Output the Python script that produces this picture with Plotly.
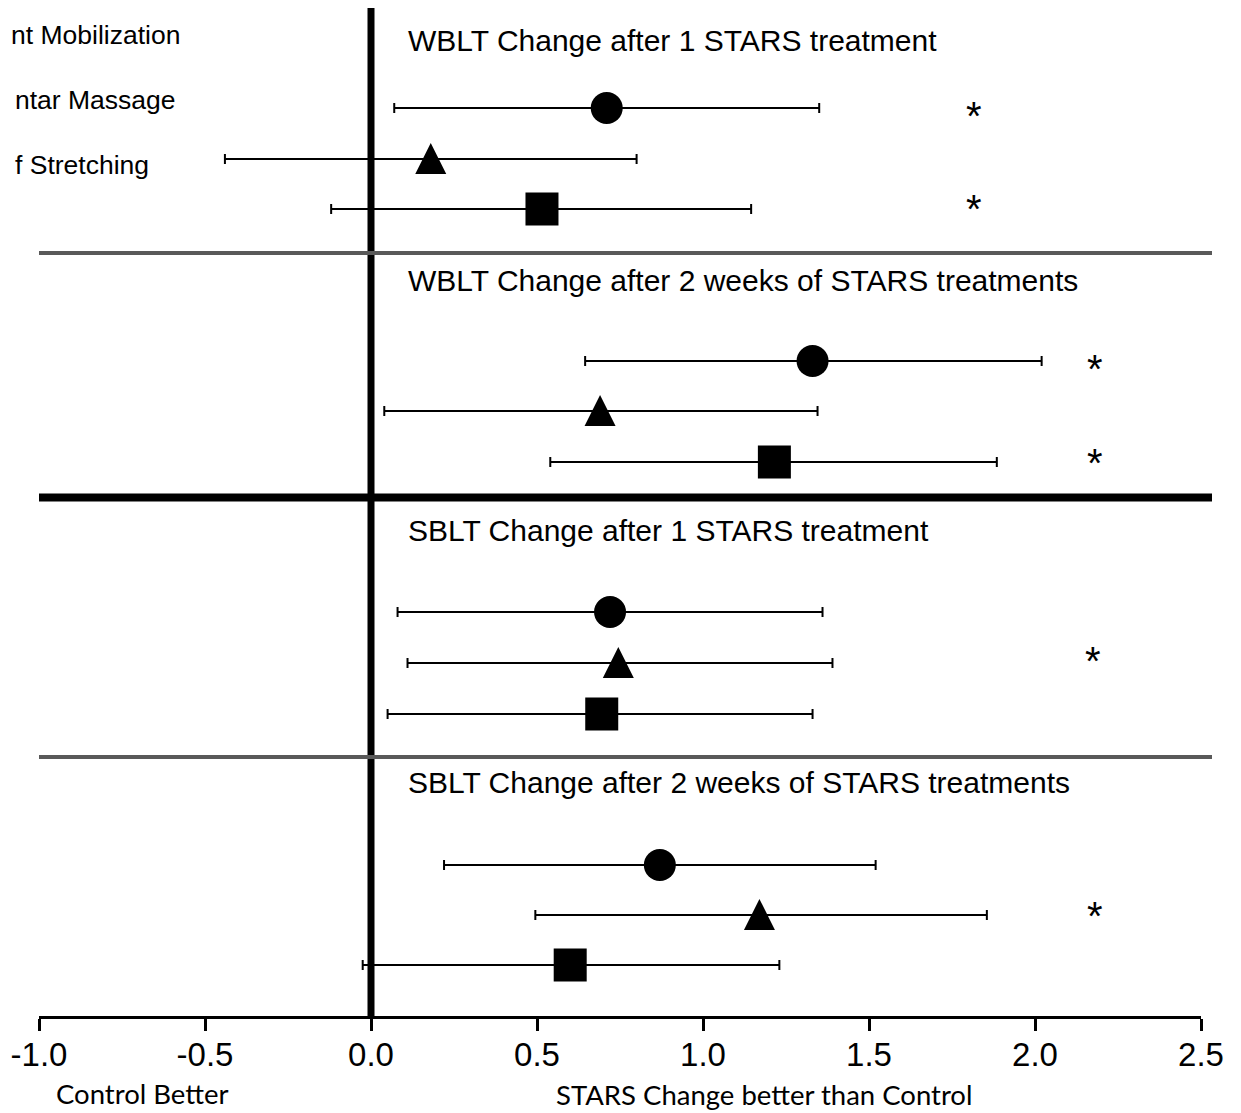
import plotly.graph_objects as go

# ---------------- data ----------------
panel_titles = [
    "WBLT Change after 1 STARS treatment",
    "WBLT Change after 2 weeks of STARS treatments",
    "SBLT Change after 1 STARS treatment",
    "SBLT Change after 2 weeks of STARS treatments",
]
# legend labels as visible in the (left-cropped) reference picture
legend_labels = ["nt Mobilization", "ntar Massage", "f Stretching"]

mob_mean = [0.71, 1.33, 0.72, 0.87]
mob_lo = [0.07, 0.645, 0.08, 0.22]
mob_hi = [1.35, 2.02, 1.36, 1.52]

mas_mean = [0.18, 0.69, 0.745, 1.17]
mas_lo = [-0.44, 0.04, 0.11, 0.495]
mas_hi = [0.80, 1.345, 1.39, 1.855]

str_mean = [0.515, 1.215, 0.695, 0.60]
str_lo = [-0.12, 0.54, 0.05, -0.025]
str_hi = [1.145, 1.885, 1.33, 1.23]

mob_sig = [True, True, False, False]
mas_sig = [False, False, True, True]
str_sig = [True, True, False, False]

x_ticks = [-1.0, -0.5, 0.0, 0.5, 1.0, 1.5, 2.0, 2.5]
x_ticktext = ["-1.0", "-0.5", "0.0", "0.5", "1.0", "1.5", "2.0", "2.5"]

# ---------------- layout constants ----------------
# the html body has an 8px margin, so the figure starts at page (8, 8)
OFF = 8
PLOT_LEFT, PLOT_RIGHT, PLOT_TOP, PLOT_BOTTOM = 39, 1201, 8, 1016  # page px
W, H = 1233, 1105
ML = PLOT_LEFT - OFF
MT = PLOT_TOP - OFF
PW = PLOT_RIGHT - PLOT_LEFT
PH = PLOT_BOTTOM - PLOT_TOP
MR = W - ML - PW
MB = H - MT - PH


def px_x(page_x):
    return (page_x - PLOT_LEFT) / PW


def px_y(page_y):
    return (PLOT_BOTTOM - page_y) / PH


row_y = [[108, 159, 209], [361, 411, 462], [612, 663, 714], [865, 915, 965]]
star_dy = [[4, 0, -4], [4, 0, -3], [0, -6, 0], [0, -3, 0]]
title_y = [40, 280, 530, 782]
star_x = [1.816, 2.18, 2.176, 2.18]
sep_y = [253, 497.5, 757]
sep_w = [4, 8, 4]
sep_c = ["#595959", "#000000", "#595959"]

FONT = "Liberation Sans, Arial, sans-serif"

series = [
    (mob_mean, mob_lo, mob_hi, mob_sig, "circle", 32, 0),
    (mas_mean, mas_lo, mas_hi, mas_sig, "arrow-up", 31, -16),
    (str_mean, str_lo, str_hi, str_sig, "square", 33, 0),
]

fig = go.Figure()

# error bars
for k, (mean, lo, hi, sig, sym, size, dy) in enumerate(series):
    ys = [row_y[p][k] for p in range(4)]
    fig.add_trace(go.Scatter(
        x=mean, y=ys, mode="markers",
        marker=dict(size=2, color="rgba(0,0,0,0)"),
        error_x=dict(type="data", symmetric=False,
                     array=[h - m for m, h in zip(mean, hi)],
                     arrayminus=[m - l for m, l in zip(mean, lo)],
                     color="black", thickness=2, width=5),
        hoverinfo="skip", showlegend=False,
    ))

# markers
for k, (mean, lo, hi, sig, sym, size, dy) in enumerate(series):
    ys = [row_y[p][k] + dy for p in range(4)]
    fig.add_trace(go.Scatter(
        x=mean, y=ys, mode="markers",
        marker=dict(symbol=sym, size=size, color="black", line=dict(width=0)),
        showlegend=False,
    ))

shapes = []
shapes.append(dict(type="line", xref="x", yref="y", x0=0, x1=0, y0=PLOT_TOP, y1=PLOT_BOTTOM,
                   line=dict(color="black", width=7)))
x_end = px_x(1212)
for yv, wv, cv in zip(sep_y, sep_w, sep_c):
    shapes.append(dict(type="line", xref="paper", yref="y", x0=0, x1=x_end,
                       y0=yv, y1=yv, line=dict(color=cv, width=wv)))

annotations = []
for p, t in enumerate(panel_titles):
    annotations.append(dict(text=t, x=0.105, y=title_y[p], xref="x", yref="y",
                            xanchor="left", yanchor="middle", showarrow=False,
                            font=dict(family=FONT, size=30, color="black")))
    for k, s in enumerate(series):
        if s[3][p]:
            annotations.append(dict(text="*", x=star_x[p],
                                    y=row_y[p][k] + star_dy[p][k] + 4,
                                    xref="x", yref="y", xanchor="center",
                                    yanchor="middle", showarrow=False,
                                    font=dict(family=FONT, size=40, color="black")))

legend_right = [182, 178, 151]
legend_y = [35, 100, 165]
for k, t in enumerate(legend_labels):
    annotations.append(dict(text=t, x=px_x(legend_right[k]),
                            y=legend_y[k], xref="paper", yref="y",
                            xanchor="right", yanchor="middle", showarrow=False,
                            font=dict(family=FONT, size=26.5, color="black")))

annotations.append(dict(text="Control Better", x=px_x(142), y=px_y(1093),
                        xref="paper", yref="paper",
                        xanchor="center", yanchor="middle", showarrow=False,
                        font=dict(family="Lato, Carlito, sans-serif", size=27.5, color="black")))
annotations.append(dict(text="STARS Change better than Control", x=px_x(764), y=px_y(1094),
                        xref="paper", yref="paper",
                        xanchor="center", yanchor="middle", showarrow=False,
                        font=dict(family="Lato, Carlito, sans-serif", size=27.5, color="black")))

fig.update_layout(
    width=W, height=H,
    margin=dict(l=ML, r=MR, t=MT, b=MB, pad=0),
    paper_bgcolor="white", plot_bgcolor="white",
    showlegend=False,
    shapes=shapes, annotations=annotations,
    xaxis=dict(range=[-1, 2.5], tickvals=x_ticks, ticktext=x_ticktext,
               showline=True, linecolor="black", linewidth=2.5,
               ticks="outside", ticklen=12, tickwidth=2.5, tickcolor="black",
               ticklabelstandoff=-4,
               showgrid=False, zeroline=False,
               tickfont=dict(family=FONT, size=33, color="black")),
    yaxis=dict(range=[PLOT_BOTTOM, PLOT_TOP], visible=False, showgrid=False, zeroline=False),
)

fig.write_html("out.html")
